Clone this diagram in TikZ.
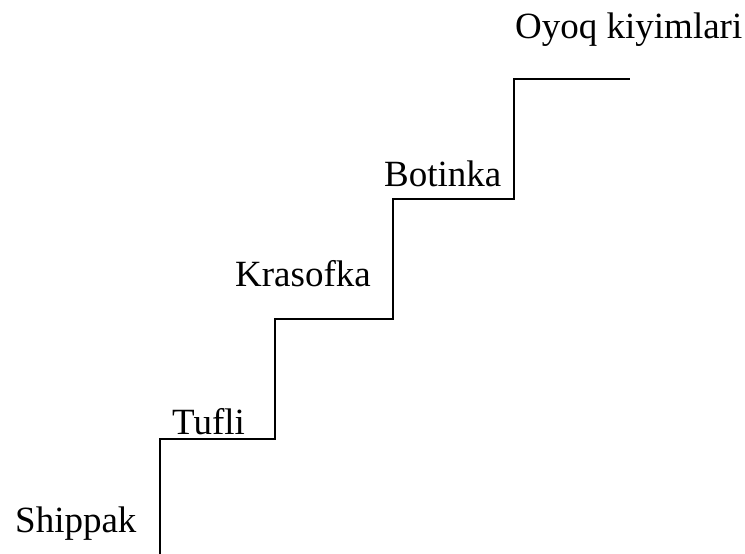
\documentclass[tikz,border=0pt]{standalone}
\usepackage{fontspec}
\setmainfont{Liberation Serif}
\begin{document}
\begin{tikzpicture}[x=1pt,y=1pt,
  lbl/.style={anchor=base west,inner sep=0pt,font=\fontsize{37}{41}\selectfont},
  stair/.style={line width=2pt,line join=miter}]
\useasboundingbox (0,0) rectangle (745,554);
\coordinate (s0) at (160,0);
\coordinate (s1) at (160,115);
\coordinate (s2) at (275,115);
\coordinate (s3) at (275,235);
\coordinate (s4) at (393,235);
\coordinate (s5) at (393,355);
\coordinate (s6) at (514,355);
\coordinate (s7) at (514,475);
\coordinate (s8) at (630,475);
\draw[stair] (s0) -- (s1) -- (s2) -- (s3) -- (s4) -- (s5) -- (s6) -- (s7) -- (s8);
\node[lbl] (shippak) at (15,21) {Shippak};
\node[lbl] (tufli) at (172,119) {Tufli};
\node[lbl] (krasofka) at (235,267) {Krasofka};
\node[lbl] (botinka) at (384,367) {Botinka};
\node[lbl] (oyoq) at (515,515) {Oyoq kiyimlari};
\end{tikzpicture}
\end{document}
